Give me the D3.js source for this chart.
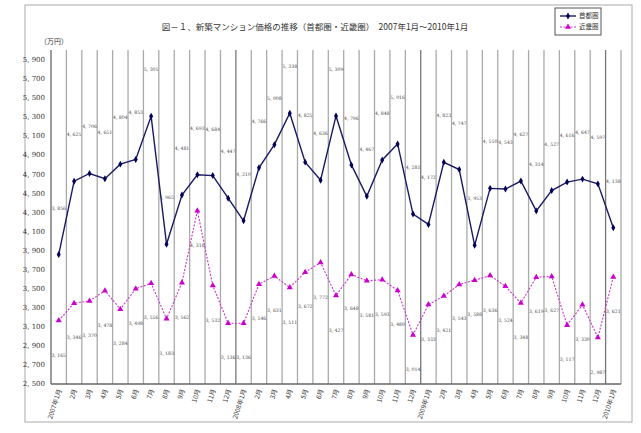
<!DOCTYPE html>
<html><head><meta charset="utf-8">
<script src="https://cdn.jsdelivr.net/npm/d3@7"></script>
<style>body{margin:0;background:#fff}svg{display:block}</style>
</head><body>
<svg id="chart" width="641" height="433"></svg>
<script>
const months = ["2007年1月","2月","3月","4月","5月","6月","7月","8月","9月","10月","11月","12月",
  "2008年1月","2月","3月","4月","5月","6月","7月","8月","9月","10月","11月","12月",
  "2009年1月","2月","3月","4月","5月","6月","7月","8月","9月","10月","11月","12月","2010年1月"];
const shutoken = [3856,4625,4706,4651,4804,4853,5305,3965,4481,4693,4684,4447,
  4210,4766,5008,5338,4825,4636,5309,4796,4467,4848,5016,4281,
  4172,4823,4747,3953,4550,4543,4627,4314,4527,4616,4647,4597,4138];
const kinki = [3165,3346,3370,3478,3284,3498,3556,3183,3562,4316,3532,3136,
  3136,3546,3631,3511,3672,3772,3427,3648,3581,3593,3480,3014,
  3333,3421,3543,3588,3636,3524,3348,3619,3627,3117,3330,2987,3621];
const yTicks = d3.range(2500, 6000, 200);

const svg = d3.select("#chart");
const numFont = "'DejaVu Serif', 'Liberation Serif', serif";
const jpFont = "'Noto Sans CJK JP', sans-serif";
const fmt = d => d3.format(",")(d).replace(",", ", ");

// outer frame
svg.append("rect").attr("x", 25).attr("y", 5).attr("width", 607).attr("height", 417)
  .attr("fill", "#fff").attr("stroke", "#aaa").attr("stroke-width", 1);

const L = 51, R = 621, T = 50, B = 384;
const x = d3.scaleBand().domain(months.map((m, i) => i)).range([L, R]);
const y = d3.scaleLinear().domain([2500, 6000]).range([B, T]);

// vertical grid lines at band boundaries
svg.append("g").selectAll("line").data(d3.range(1, months.length + 1)).join("line")
  .attr("x1", i => L + i * x.step()).attr("x2", i => L + i * x.step())
  .attr("y1", T).attr("y2", B)
  .attr("stroke", i => i % 12 === 0 ? "#777" : "#aaa").attr("stroke-width", 1.3);

// axes
svg.append("line").attr("x1", L).attr("x2", L).attr("y1", T).attr("y2", B).attr("stroke", "#666").attr("stroke-width", 1.3);
svg.append("line").attr("x1", L).attr("x2", R).attr("y1", B).attr("y2", B).attr("stroke", "#666").attr("stroke-width", 1.3);

svg.append("g").selectAll("text").data(yTicks).join("text")
  .attr("x", L - 6).attr("y", d => y(d)).attr("dy", "0.35em")
  .attr("text-anchor", "end").attr("font-size", 7).attr("font-family", numFont).attr("fill", "#333")
  .text(fmt);

svg.append("g").selectAll("text").data(months).join("text")
  .attr("transform", (d, i) => `translate(${x(i) + x.bandwidth() / 2 + 3},${B + 6}) rotate(-72)`)
  .attr("text-anchor", "end").attr("font-size", 6.5).attr("font-family", jpFont).attr("fill", "#333")
  .text(d => d);

svg.append("text").attr("x", 40).attr("y", 44).attr("font-size", 7).attr("font-family", jpFont).attr("fill", "#333").text("（万円）");

svg.append("text").attr("x", 315).attr("y", 30).attr("text-anchor", "middle")
  .attr("font-size", 8.5).attr("font-family", jpFont).attr("fill", "#333")
  .text("図－１、新築マンション価格の推移（首都圏・近畿圏）　2007年1月～2010年1月");

const cx = i => x(i) + x.bandwidth() / 2;

// 近畿圏
svg.append("path").datum(kinki)
  .attr("d", d3.line().x((d, i) => cx(i)).y(d => y(d)))
  .attr("fill", "none").attr("stroke", "#cc33cc").attr("stroke-width", 1.1).attr("stroke-dasharray", "2,1.5");
svg.append("g").selectAll("path").data(kinki).join("path")
  .attr("d", d3.symbol(d3.symbolTriangle, 16))
  .attr("transform", (d, i) => `translate(${cx(i)},${y(d)})`).attr("fill", "#cc00cc");
svg.append("g").selectAll("text").data(kinki).join("text")
  .attr("x", (d, i) => cx(i)).attr("y", d => y(d) + 36).attr("text-anchor", "middle")
  .attr("font-size", 4.6).attr("font-family", numFont).attr("fill", "#444")
  .text(fmt);

// 首都圏
svg.append("path").datum(shutoken)
  .attr("d", d3.line().x((d, i) => cx(i)).y(d => y(d)))
  .attr("fill", "none").attr("stroke", "#1a1a66").attr("stroke-width", 1.4);
svg.append("g").selectAll("path").data(shutoken).join("path")
  .attr("d", d3.symbol(d3.symbolDiamond, 14))
  .attr("transform", (d, i) => `translate(${cx(i)},${y(d)})`).attr("fill", "#000055");
svg.append("g").selectAll("text").data(shutoken).join("text")
  .attr("x", (d, i) => cx(i)).attr("y", d => y(d) - 45).attr("text-anchor", "middle")
  .attr("font-size", 4.6).attr("font-family", numFont).attr("fill", "#444")
  .text(fmt);

// legend
const lg = svg.append("g").attr("transform", "translate(555,8)");
lg.append("rect").attr("width", 46).attr("height", 27).attr("fill", "#fff").attr("stroke", "#555");
lg.append("line").attr("x1", 5).attr("x2", 21).attr("y1", 8).attr("y2", 8).attr("stroke", "#1a1a66").attr("stroke-width", 1.4);
lg.append("path").attr("d", d3.symbol(d3.symbolDiamond, 14)).attr("transform", "translate(13,8)").attr("fill", "#000055");
lg.append("text").attr("x", 24).attr("y", 8).attr("dy", "0.35em").attr("font-size", 6.5).attr("font-family", jpFont).attr("fill", "#333").text("首都圏");
lg.append("line").attr("x1", 5).attr("x2", 21).attr("y1", 19).attr("y2", 19).attr("stroke", "#cc33cc").attr("stroke-width", 1.1).attr("stroke-dasharray", "2,1.5");
lg.append("path").attr("d", d3.symbol(d3.symbolTriangle, 16)).attr("transform", "translate(13,19)").attr("fill", "#cc00cc");
lg.append("text").attr("x", 24).attr("y", 19).attr("dy", "0.35em").attr("font-size", 6.5).attr("font-family", jpFont).attr("fill", "#333").text("近畿圏");
</script>
</body></html>
